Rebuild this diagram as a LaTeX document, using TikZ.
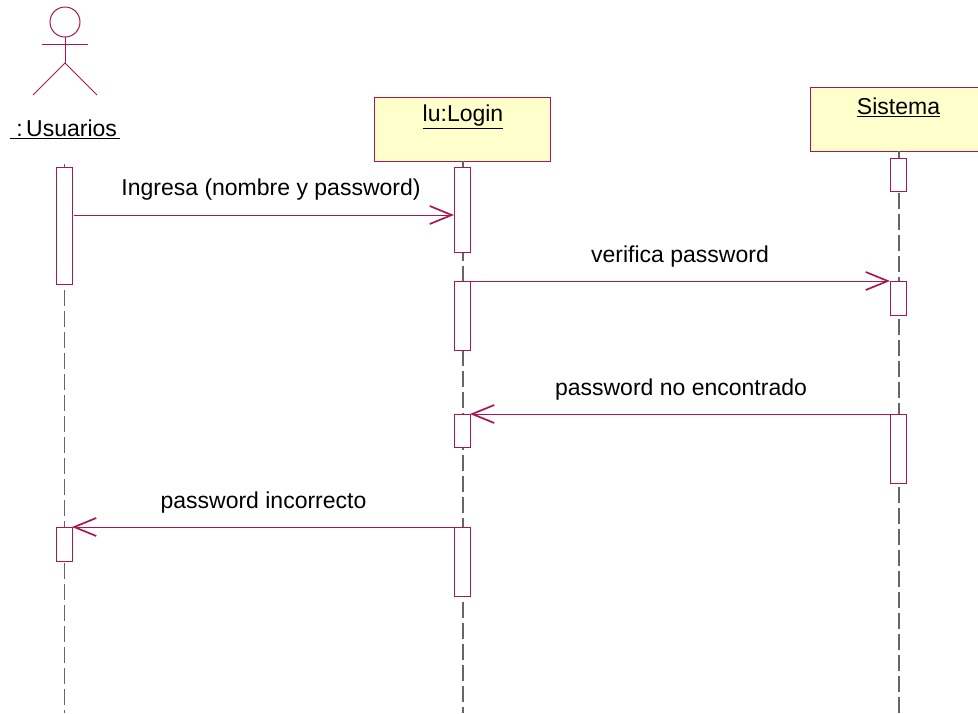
\documentclass[tikz,border=0pt]{standalone}
\usepackage{fontspec}
\setmainfont{Liberation Sans}
\usetikzlibrary{positioning, arrows.meta}

\definecolor{umlline}{HTML}{A8184F}
\definecolor{umlfill}{HTML}{FFFFCC}

\begin{document}
\begin{tikzpicture}[x=1pt, y=-1pt, >={Straight Barb[length=22pt,width=18pt,line width=1.7pt]},
                    every node/.style={font=\fontsize{23}{27}\selectfont, text=black},
                    headbox/.style={draw=umlline, fill=umlfill, line width=1pt, minimum width=176pt, minimum height=64pt, inner sep=0pt, outer sep=0pt},
                    actbox/.style={draw=umlline, fill=white, line width=1pt, minimum width=16pt, inner sep=0pt, outer sep=0pt, anchor=north},
                    lifeline/.style={draw=black!60, line width=1.2pt, dash pattern=on 16pt off 5pt},
                    msg/.style={draw=umlline, line width=1pt, ->},
                    actor/.style={draw=umlline, line width=1pt}]

    \useasboundingbox (0,0) rectangle (978,713);

    % objects
    \node[headbox] (login) at (462,129) {};
    \node[headbox] (sistema) at (898,119) {};
    \node (logintxt) at (463,117) {\underline{lu:Login}};
    \node (sistematxt) at (898.5,107) {\underline{Sistema}};

    % actor
    \node[circle, actor, minimum size=30pt, inner sep=0pt, outer sep=0pt] (head) at (65,22) {};
    \coordinate (hip) at (65,63);
    \coordinate (armL) at (42,44);
    \coordinate (armR) at (88,44);
    \coordinate (footL) at (33,95);
    \coordinate (footR) at (97,95);
    \draw[actor] (head.south) -- (hip);
    \draw[actor] (armL) -- (armR);
    \draw[actor] (footL) -- (hip) -- (footR);
    \node (usuarios) at (65,129) {\underline{\ :\kern-3pt\ Usuarios\kern3pt}};

    % lifelines
    \coordinate (top) at (64.5,164);
    \coordinate (end) at (64.5,713);
    \draw[lifeline] (top) -- (end);
    \draw[lifeline] (login.south -| 463,0) -- (463,713);
    \draw[lifeline] (sistema.south -| 899,0) -- (899,713);

    % activations
    \node[actbox, minimum height=117pt] (u1) at (64,167) {};
    \node[actbox, minimum height=34pt]  (u2) at (64,527) {};
    \node[actbox, minimum height=85pt]  (l1) at (462,167) {};
    \node[actbox, minimum height=69pt]  (l2) at (462,281) {};
    \node[actbox, minimum height=33pt]  (l3) at (462,414) {};
    \node[actbox, minimum height=69pt]  (l4) at (462,527) {};
    \node[actbox, minimum height=33pt]  (s1) at (898,158) {};
    \node[actbox, minimum height=34pt]  (s2) at (898,281) {};
    \node[actbox, minimum height=69pt]  (s3) at (898,414) {};

    % messages
    \coordinate (m1) at (0,215);
    \draw[msg] (m1 -| u1.east) ++(2,0) -- (m1 -| l1.west);
    \draw[msg] (l2.north east) -- (s2.north west);
    \draw[msg] (s3.north west) -- (l3.north east);
    \draw[msg] (l4.north west) -- (u2.north east);

    \node (ingresa) at (271,190) {Ingresa (nombre y password)};
    \node (verifica) at (680,257) {verifica password};
    \node (noenc) at (681,390) {password no encontrado};
    \node (incorr) at (263.5,503) {password incorrecto};
\end{tikzpicture}
\end{document}
